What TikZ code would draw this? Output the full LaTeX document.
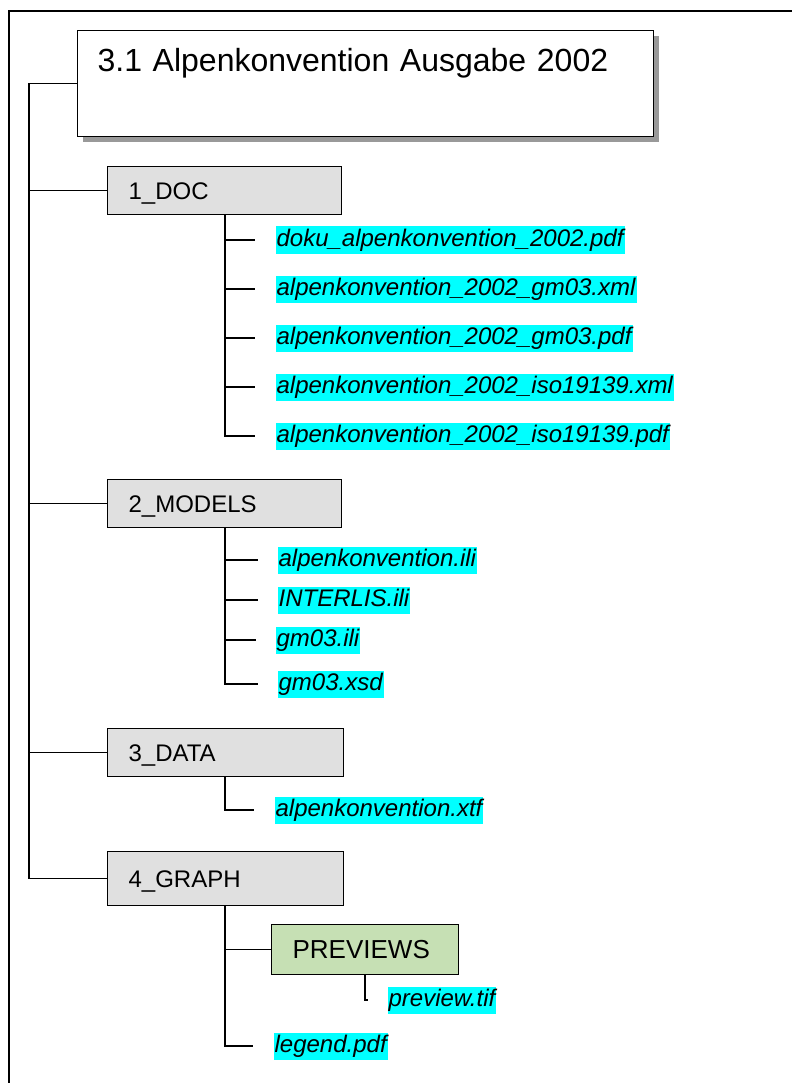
\documentclass[tikz,border=0pt]{standalone}
\usepackage{fontspec}
\setmainfont{Liberation Sans}
\usetikzlibrary{shadows}
\definecolor{foldergray}{HTML}{E0E0E0}
\definecolor{subgreen}{HTML}{C6E0B4}
\definecolor{marker}{HTML}{00FFFF}

\begin{document}
\begin{tikzpicture}[x=1pt,y=-1pt,line width=1.2pt,
        folder/.style={draw, fill=foldergray, anchor=north west,
                        inner xsep=21pt, inner ysep=0pt, align=left,
                        text width=192pt, minimum height=48pt,
                        text height=17pt, text depth=0pt,
                        font=\fontsize{24}{28}\selectfont},
        file/.style={fill=marker, anchor=west, inner xsep=1pt, inner ysep=1pt,
                        text height=19pt, text depth=6pt,
                        font=\fontsize{24}{28}\selectfont\itshape},
        tree/.style={shorten >=20pt}]
    \useasboundingbox (0,0) rectangle (792,1083);
    \draw[line width=1.5pt] (9,1083) -- (9,11) -- (792,11);

    \node[draw, fill=white, anchor=north west, inner xsep=20pt, inner ysep=0pt,
            text width=536pt, text height=41pt, text depth=65pt, align=left,
            font=\fontsize{32}{38}\selectfont,
            drop shadow={shadow xshift=5pt, shadow yshift=-5pt,
                        fill=black!40, opacity=1}]
        (title) at (77,30) {3.1 Alpenkonvention Ausgabe 2002};

    \node[folder] (doc) at (107,166) {1\_DOC};
    \node[folder] (models) at (107,479) {2\_MODELS};
    \node[folder, text width=194pt] (data) at (107,728) {3\_DATA};
    \node[folder, text width=194pt, minimum height=54pt] (graph) at (107,851) {4\_GRAPH};
    \node[folder, fill=subgreen, text width=145pt, minimum height=50pt,
            text height=18.6pt, font=\fontsize{26}{30}\selectfont]
        (previews) at (271,924) {PREVIEWS};

    \node[file] (d1) at (275,240) {doku\_alpenkonvention\_2002.pdf};
    \node[file] (d2) at (275,289) {alpenkonvention\_2002\_gm03.xml};
    \node[file] (d3) at (275,338) {alpenkonvention\_2002\_gm03.pdf};
    \node[file] (d4) at (275,387) {alpenkonvention\_2002\_iso19139.xml};
    \node[file] (d5) at (275,436) {alpenkonvention\_2002\_iso19139.pdf};

    \node[file] (m1) at (277,560) {alpenkonvention.ili};
    \node[file] (m2) at (277,600) {INTERLIS.ili};
    \node[file] (m3) at (275,640) {gm03.ili};
    \node[file] (m4) at (277,684) {gm03.xsd};

    \node[file] (x1) at (274,810) {alpenkonvention.xtf};

    \node[file] (p1) at (387,1000) {preview.tif};
    \node[file] (g1) at (273,1046) {legend.pdf};

    \coordinate (rootx) at (29,0);
    \coordinate (subx) at (225,0);
    \coordinate (prevx) at (365,0);

    \draw (title.west) -| (rootx |- graph.west) -- (graph.west);
    \foreach \n in {doc,models,data}
        \draw (rootx |- \n.west) -- (\n.west);

    \foreach \f in {d1,d2,d3,d4,d5}
        \draw[tree] (doc.south -| subx) |- (\f.west);
    \foreach \f in {m1,m2,m3,m4}
        \draw[tree, shorten >=19pt] (models.south -| subx) |- (\f.west);
    \draw[tree] (data.south -| subx) |- (x1.west);
    \draw (graph.south -| subx) |- (previews.west);
    \draw[tree] (graph.south -| subx) |- (g1.west);
    \draw[tree, shorten >=19pt] (previews.south -| prevx) |- (p1.west);
\end{tikzpicture}
\end{document}
